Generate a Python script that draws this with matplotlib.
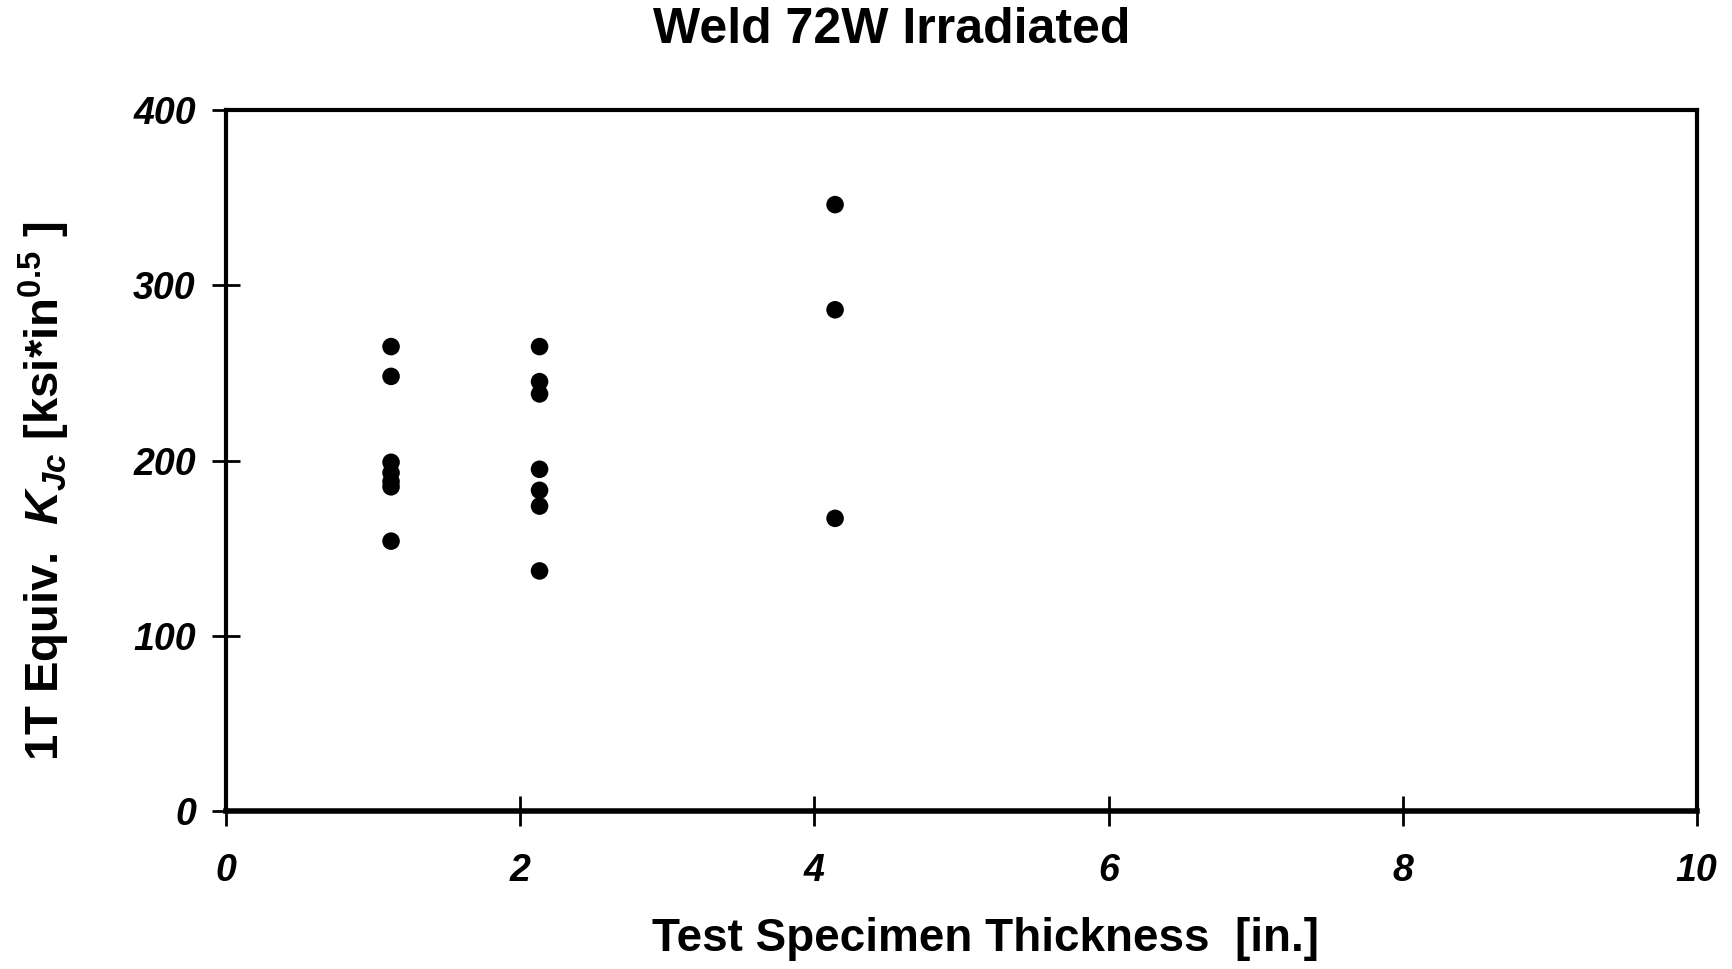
import matplotlib
matplotlib.use("Agg")
import matplotlib.pyplot as plt

# data
thick_1t = [1.12] * 7
kjc_1t = [265, 248, 199, 193, 188, 185, 154]
thick_2t = [2.13] * 7
kjc_2t = [265, 245, 238, 195, 183, 174, 137]
thick_4t = [4.14] * 3
kjc_4t = [346, 286, 167]

x_ticks = [0, 2, 4, 6, 8, 10]
y_ticks = [0, 100, 200, 300, 400]

plt.rcParams['font.family'] = ['Liberation Sans', 'DejaVu Sans']
plt.rcParams['mathtext.fontset'] = 'custom'
plt.rcParams['mathtext.rm'] = 'Liberation Sans:bold'
plt.rcParams['mathtext.it'] = 'Liberation Sans:italic:bold'
plt.rcParams['mathtext.bf'] = 'Liberation Sans:bold'

fig = plt.figure(figsize=(17.32, 9.69), dpi=100)
ax = fig.add_axes([0.1307, 0.163, 0.8489, 0.7235])

for xs, ys in [(thick_1t, kjc_1t), (thick_2t, kjc_2t), (thick_4t, kjc_4t)]:
    ax.scatter(xs, ys, s=160, color='black', edgecolors='none', zorder=3)

ax.set_xlim(0, 10)
ax.set_ylim(0, 400)
ax.set_xticks(x_ticks)
ax.set_yticks(y_ticks)
ax.set_xticklabels([str(t) for t in x_ticks], fontsize=27, fontweight='bold', fontstyle='italic')
ax.set_yticklabels([str(t) for t in y_ticks], fontsize=27, fontweight='bold', fontstyle='italic')
ax.tick_params(axis='x', direction='inout', length=22, width=2, pad=19)
ax.tick_params(axis='y', direction='inout', length=20, width=2, pad=12)
for sp in ax.spines.values():
    sp.set_linewidth(3)
ax.spines['bottom'].set_linewidth(4)

fig.text(0.515, 0.969, 'Weld 72W Irradiated', ha='center', va='center',
         fontsize=36, fontweight='bold')
fig.text(0.569, 0.031, 'Test Specimen Thickness  [in.]', ha='center', va='center',
         fontsize=33, fontweight='bold')
fig.text(0.0254, 0.493, r'1T Equiv.  $K_{Jc}$ [ksi*in$^{\mathrm{0.5}}$ ]', ha='center', va='center',
         rotation=90, fontsize=34, fontweight='bold')

fig.savefig('out.png', dpi=100)
